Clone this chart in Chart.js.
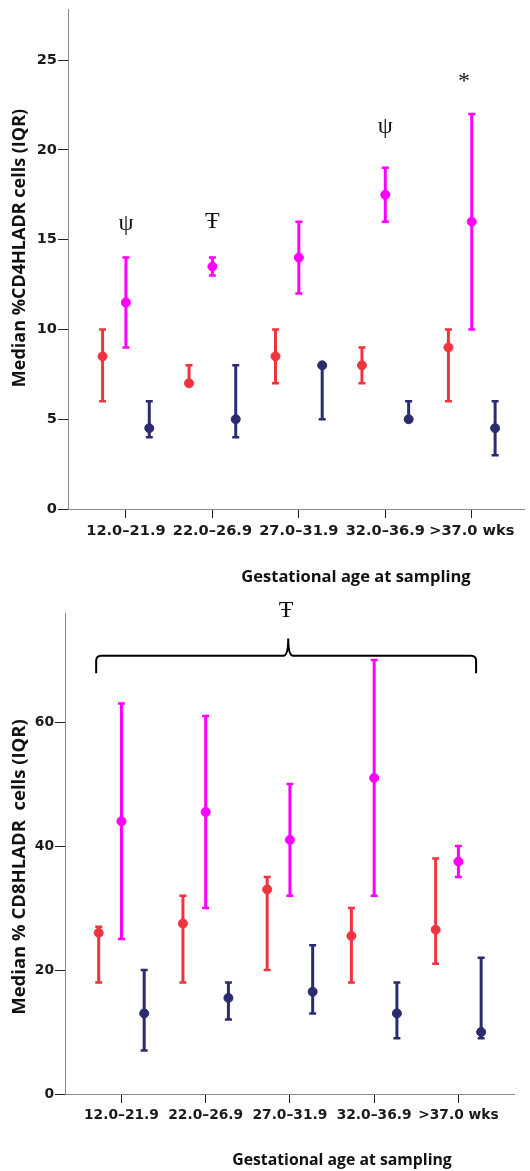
<!DOCTYPE html>
<html>
<head>
<meta charset="utf-8">
<script src="https://cdn.jsdelivr.net/npm/chart.js@4/dist/chart.umd.min.js"></script>
<style>
  html, body { margin: 0; padding: 0; background: #fff; }
  .box { position: absolute; left: 0; width: 530px; }
  #box1 { top: 0; height: 592px; }
  #box2 { top: 592px; height: 579px; }
</style>
</head>
<body>
<div class="box" id="box1"><canvas id="cd4Chart"></canvas></div>
<div class="box" id="box2"><canvas id="cd8Chart"></canvas></div>
<script>
// gestational age groups (x categories)
const groups = ['12.0\u201321.9', '22.0\u201326.9', '27.0\u201331.9', '32.0\u201336.9', '>37.0 wks'];

// CD4 HLADR - median, lower and upper IQR
const cd4RedMed = [8.5, 7, 8.5, 8, 9];
const cd4RedLo  = [6, 7, 7, 7, 6];
const cd4RedHi  = [10, 8, 10, 9, 10];
const cd4MagMed = [11.5, 13.5, 14, 17.5, 16];
const cd4MagLo  = [9, 13, 12, 16, 10];
const cd4MagHi  = [14, 14, 16, 19, 22];
const cd4NavMed = [4.5, 5, 8, 5, 4.5];
const cd4NavLo  = [4, 4, 5, 5, 3];
const cd4NavHi  = [6, 8, 8, 6, 6];
const cd4Ticks  = [0, 5, 10, 15, 20, 25];

// CD8 HLADR
const cd8RedMed = [26, 27.5, 33, 25.5, 26.5];
const cd8RedLo  = [18, 18, 20, 18, 21];
const cd8RedHi  = [27, 32, 35, 30, 38];
const cd8MagMed = [44, 45.5, 41, 51, 37.5];
const cd8MagLo  = [25, 30, 32, 32, 35];
const cd8MagHi  = [63, 61, 50, 70, 40];
const cd8NavMed = [13, 15.5, 16.5, 13, 10];
const cd8NavLo  = [7, 12, 13, 9, 9];
const cd8NavHi  = [20, 18, 24, 18, 22];
const cd8Ticks  = [0, 20, 40, 60];

// significance marks, placed in data units
const cd4Marks = [
  { text: '\u03c8', x: 1, y: 15.9 },
  { text: '\u0166', x: 2, y: 16.0 },
  { text: '\u03c8', x: 4, y: 21.3 },
  { text: '*', x: 4.91, y: 23.8 }
];
const cd8Marks = [{ text: '\u0166', x: 2.955, y: 77.9 }];
const cd8Brace = { from: 0.70, to: 5.21, mid: 2.98, y: 70.7, end: 67.9, tip: 73.5 };

const RED = '#f0343f', MAG = '#ff00ff', NAVY = '#2a2c6e';
const SHIFT = 0.27; // side-by-side offset inside a group

function series(med, lo, hi, shift, color) {
  return {
    data: med.map((m, i) => ({ x: i + 1 + shift, y: m, lo: lo[i], hi: hi[i] })),
    backgroundColor: color,
    borderColor: color,
    pointRadius: 4.5,
    pointHoverRadius: 4.5,
    showLine: false
  };
}

// draws the IQR whiskers through the chart's scales
const errorBars = {
  id: 'errorBars',
  beforeDatasetsDraw(chart) {
    const { ctx, scales: { x, y } } = chart;
    chart.data.datasets.forEach(ds => {
      ctx.save();
      ctx.strokeStyle = ds.borderColor;
      ds.data.forEach(p => {
        const px = x.getPixelForValue(p.x);
        const top = y.getPixelForValue(p.hi);
        const bot = y.getPixelForValue(p.lo);
        ctx.lineWidth = 3;
        ctx.beginPath();
        ctx.moveTo(px, top);
        ctx.lineTo(px, bot);
        ctx.stroke();
        ctx.lineWidth = 2.5;
        ctx.beginPath();
        ctx.moveTo(px - 3.5, top); ctx.lineTo(px + 3.5, top);
        ctx.moveTo(px - 3.5, bot); ctx.lineTo(px + 3.5, bot);
        ctx.stroke();
      });
      ctx.restore();
    });
  }
};

// titles, significance symbols and the bracket
const extras = {
  id: 'extras',
  afterDraw(chart, args, opts) {
    const { ctx, scales: { x, y } } = chart;
    ctx.save();
    ctx.fillStyle = '#111';
    ctx.textAlign = 'center';
    ctx.textBaseline = 'middle';
    ctx.font = opts.markFont;
    opts.marks.forEach(m => ctx.fillText(m.text, x.getPixelForValue(m.x), y.getPixelForValue(m.y)));

    if (opts.brace) {
      const b = opts.brace;
      const xl = x.getPixelForValue(b.from), xr = x.getPixelForValue(b.to), xm = x.getPixelForValue(b.mid);
      const yl = y.getPixelForValue(b.y), ye = y.getPixelForValue(b.end), yt = y.getPixelForValue(b.tip);
      ctx.strokeStyle = '#000';
      ctx.lineWidth = 2;
      ctx.beginPath();
      ctx.moveTo(xl, ye);
      ctx.lineTo(xl, yl + 5);
      ctx.quadraticCurveTo(xl, yl, xl + 5, yl);
      ctx.lineTo(xm - 5, yl);
      ctx.quadraticCurveTo(xm, yl, xm, yt);
      ctx.quadraticCurveTo(xm, yl, xm + 5, yl);
      ctx.lineTo(xr - 5, yl);
      ctx.quadraticCurveTo(xr, yl, xr, yl + 5);
      ctx.lineTo(xr, ye);
      ctx.stroke();
    }

    ctx.font = opts.xTitleFont;
    ctx.fillText(opts.xTitle, opts.xTitleAt[0], opts.xTitleAt[1]);
    ctx.font = opts.yTitleFont;
    ctx.translate(opts.yTitleAt[0], opts.yTitleAt[1]);
    ctx.rotate(-Math.PI / 2);
    ctx.fillText(opts.yTitle, 0, 0);
    ctx.restore();
  }
};

function makeChart(id, cfg) {
  new Chart(document.getElementById(id), {
    type: 'scatter',
    data: {
      datasets: [
        series(cfg.red[0], cfg.red[1], cfg.red[2], -SHIFT, RED),
        series(cfg.mag[0], cfg.mag[1], cfg.mag[2], 0, MAG),
        series(cfg.nav[0], cfg.nav[1], cfg.nav[2], SHIFT, NAVY)
      ]
    },
    options: {
      responsive: true,
      maintainAspectRatio: false,
      animation: false,
      events: [],
      layout: { padding: { top: cfg.padTop, right: cfg.padRight, left: 0, bottom: 0 } },
      plugins: {
        legend: { display: false },
        tooltip: { enabled: false },
        extras: {
          marks: cfg.marks, brace: cfg.brace,
          markFont: cfg.markFont, xTitleFont: cfg.xTitleFont, yTitleFont: cfg.yTitleFont,
          xTitle: 'Gestational age at sampling', xTitleAt: cfg.xTitleAt,
          yTitle: cfg.yTitle, yTitleAt: cfg.yTitleAt
        }
      },
      scales: {
        x: {
          type: 'linear',
          min: 0.33, max: cfg.xMax,
          afterFit: s => { s.height = cfg.xHeight; },
          afterBuildTicks: s => { s.ticks = groups.map((g, i) => ({ value: i + 1 })); },
          ticks: {
            callback: v => groups[v - 1],
            color: '#1a1a1a', padding: 4, maxRotation: 0, autoSkip: false,
            font: { family: '"DejaVu Sans", sans-serif', size: cfg.tickSize, weight: 'bold' }
          },
          grid: { drawOnChartArea: false, tickLength: 9, color: '#222', lineWidth: 1 },
          border: { color: '#8a8a8a', width: 1 }
        },
        y: {
          min: 0, max: cfg.yMax,
          afterFit: s => { s.width = cfg.yWidth; },
          afterBuildTicks: s => { s.ticks = cfg.ticks.map(v => ({ value: v })); },
          ticks: {
            color: '#1a1a1a', padding: 1,
            font: { family: '"DejaVu Sans", sans-serif', size: cfg.tickSize, weight: 'bold' }
          },
          grid: { drawOnChartArea: false, tickLength: 10, color: '#222', lineWidth: 1 },
          border: { color: '#8a8a8a', width: 1 }
        }
      }
    },
    plugins: [errorBars, extras]
  });
}

makeChart('cd4Chart', {
  red: [cd4RedMed, cd4RedLo, cd4RedHi],
  mag: [cd4MagMed, cd4MagLo, cd4MagHi],
  nav: [cd4NavMed, cd4NavLo, cd4NavHi],
  ticks: cd4Ticks, yMax: 27.8, xMax: 5.61,
  padTop: 8, padRight: 0, yWidth: 68, xHeight: 83, tickSize: 14.6,
  marks: cd4Marks, brace: null,
  markFont: '24px "Liberation Serif"',
  xTitleFont: 'bold 16.5px "Open Sans"', yTitleFont: 'bold 18px "Open Sans"',
  yTitle: 'Median %CD4HLADR cells (IQR)', yTitleAt: [20, 248],
  xTitleAt: [356, 577]
});

makeChart('cd8Chart', {
  red: [cd8RedMed, cd8RedLo, cd8RedHi],
  mag: [cd8MagMed, cd8MagLo, cd8MagHi],
  nav: [cd8NavMed, cd8NavLo, cd8NavHi],
  ticks: cd8Ticks, yMax: 77.6, xMax: 5.66,
  padTop: 21, padRight: 16, yWidth: 65, xHeight: 77, tickSize: 13.8,
  marks: cd8Marks, brace: cd8Brace,
  markFont: '24px "Liberation Serif"',
  xTitleFont: 'bold 15.8px "Open Sans"', yTitleFont: 'bold 18.5px "Open Sans"',
  yTitle: 'Median % CD8HLADR  cells (IQR)', yTitleAt: [20, 867 - 592],
  xTitleAt: [342, 568]
});
</script>
</body>
</html>
